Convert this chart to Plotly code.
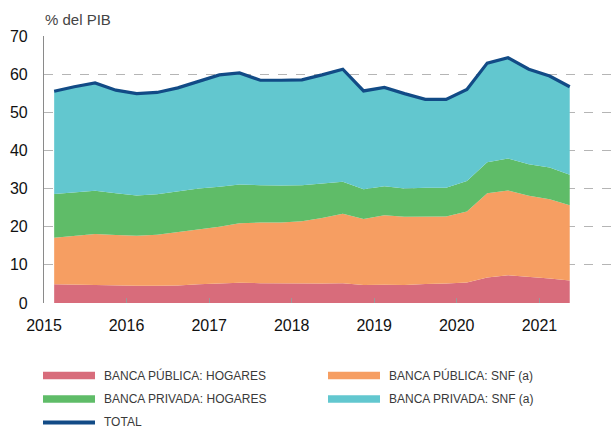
import plotly.graph_objects as go

quarters = [
    "2015-02-15", "2015-05-15", "2015-08-15", "2015-11-15",
    "2016-02-15", "2016-05-15", "2016-08-15", "2016-11-15",
    "2017-02-15", "2017-05-15", "2017-08-15", "2017-11-15",
    "2018-02-15", "2018-05-15", "2018-08-15", "2018-11-15",
    "2019-02-15", "2019-05-15", "2019-08-15", "2019-11-15",
    "2020-02-15", "2020-05-15", "2020-08-15", "2020-11-15",
    "2021-02-15", "2021-05-15",
]

publica_hogares = [4.9, 4.8, 4.7, 4.5, 4.5, 4.5, 4.6, 4.9, 5.2, 5.3, 5.2, 5.1, 5.1,
                   5.1, 5.2, 4.7, 4.8, 4.7, 5.0, 5.1, 5.4, 6.7, 7.3, 6.9, 6.4, 5.9]
publica_snf = [12.2, 12.8, 13.4, 13.3, 13.1, 13.4, 14.0, 14.5, 14.8, 15.6, 15.9, 16.0, 16.3,
               17.2, 18.2, 17.3, 18.2, 17.9, 17.7, 17.6, 18.6, 22.1, 22.2, 21.2, 20.8, 19.7]
privada_hogares = [11.5, 11.3, 11.3, 11.0, 10.6, 10.6, 10.7, 10.6, 10.5, 10.2, 9.8, 9.7, 9.5,
                   9.1, 8.4, 7.8, 7.6, 7.4, 7.5, 7.5, 8.0, 8.1, 8.4, 8.3, 8.3, 8.0]
privada_snf = [26.9, 27.8, 28.3, 27.0, 26.7, 26.7, 27.1, 28.2, 29.3, 29.2, 27.5, 27.6, 27.6,
               28.4, 29.5, 25.8, 25.9, 24.9, 23.2, 23.2, 24.0, 26.0, 26.4, 24.9, 24.0, 23.1]
total = [55.5, 56.7, 57.7, 55.8, 54.9, 55.2, 56.4, 58.2, 59.8, 60.3, 58.4, 58.4, 58.5,
         59.8, 61.3, 55.6, 56.5, 54.9, 53.4, 53.4, 56.0, 62.9, 64.3, 61.3, 59.5, 56.7]

year_ticks = ["2015-01-01", "2016-01-01", "2017-01-01", "2018-01-01",
              "2019-01-01", "2020-01-01", "2021-01-01"]
year_labels = ["2015", "2016", "2017", "2018", "2019", "2020", "2021"]
y_ticks = [0, 10, 20, 30, 40, 50, 60, 70]

names = ["BANCA PÚBLICA: HOGARES", "BANCA PÚBLICA: SNF (a)",
         "BANCA PRIVADA: HOGARES", "BANCA PRIVADA: SNF (a)", "TOTAL"]
colors = ["#D86C7B", "#F69E62", "#5FBC68", "#62C7CF", "#124B86"]

fig = go.Figure()
for vals, nm, col in zip([publica_hogares, publica_snf, privada_hogares, privada_snf],
                         names[:4], colors[:4]):
    fig.add_trace(go.Scatter(x=quarters, y=vals, name=nm, stackgroup="one",
                             mode="lines", line=dict(width=0, color=col),
                             fillcolor=col, showlegend=False))
fig.add_trace(go.Scatter(x=quarters, y=total, name=names[4], mode="lines",
                         line=dict(width=3.2, color=colors[4]), showlegend=False))

L, R, T, B = 44, 0, 36, 125
W, H = 612, 428
pw, ph = W - L - R, H - T - B

def px(x):
    return (x - L) / pw

def py(y):
    return (H - B - y) / ph

# custom legend
legend_items = [
    (0, 43, 375.5, 7.5), (1, 328, 375.5, 7.5),
    (2, 43, 399.0, 7.5), (3, 328, 399.0, 7.5),
    (4, 43, 422.5, 4.0),
]
for idx, x0, yc, th in legend_items:
    fig.add_shape(type="rect", xref="paper", yref="paper",
                  x0=px(x0), x1=px(x0 + 52), y0=py(yc + th / 2), y1=py(yc - th / 2),
                  fillcolor=colors[idx], line=dict(width=0), layer="above")
    fig.add_annotation(xref="paper", yref="paper", x=px(x0 + 59), y=py(yc),
                       text=names[idx], showarrow=False, xanchor="left", yanchor="middle",
                       font=dict(family="Liberation Sans, Arial",
                                 size=12, color="#3a3a3a"))

fig.add_annotation(xref="paper", yref="paper", x=px(43), y=py(19), text="% del PIB",
                   showarrow=False, xanchor="left", yanchor="middle",
                   font=dict(family="Liberation Sans, Arial", size=15, color="#444444"))

fig.update_layout(
    width=W, height=H,
    margin=dict(l=L, r=R, t=T, b=B),
    paper_bgcolor="white", plot_bgcolor="white",
    font=dict(family="Liberation Sans, Arial", size=16, color="#111111"),
    xaxis=dict(type="date", range=["2015-01-01", "2021-11-18"],
               tickvals=year_ticks, ticktext=year_labels,
               ticks="inside", ticklen=5, tickcolor="#999999", tickwidth=1,
               showgrid=False, showline=False, zeroline=False,
               ticklabelstandoff=11),
    yaxis=dict(range=[0, 70], tickvals=y_ticks, showgrid=True,
               gridcolor="#b5b5b5", griddash="dash", gridwidth=1,
               showline=True, linecolor="#8a8a8a", linewidth=1.2,
               zeroline=False, ticks="", ticklabelstandoff=12),
)

fig.write_html("out.html", config={"displayModeBar": False},
               post_script="document.body.style.margin='0px';")
